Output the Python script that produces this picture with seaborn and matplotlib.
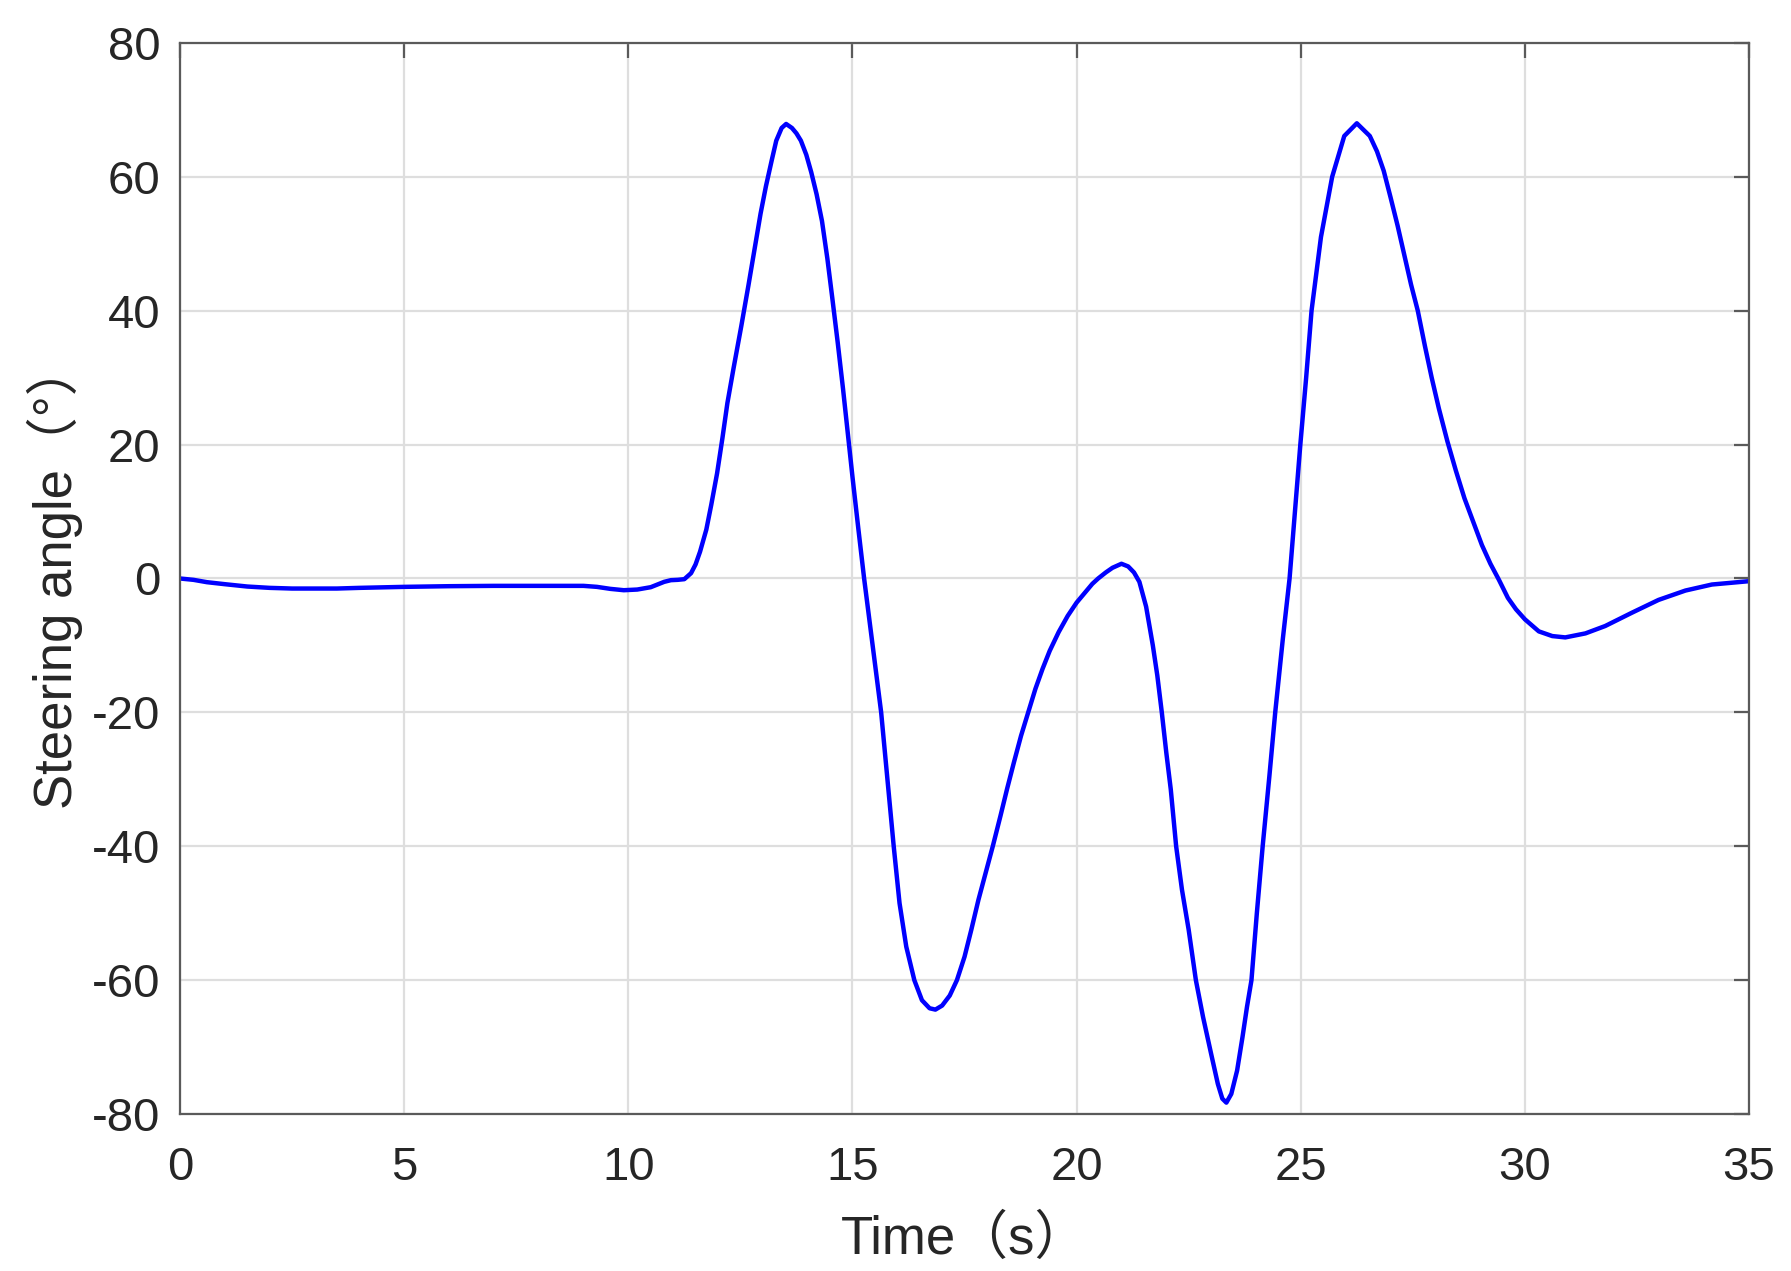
import numpy as np
import pandas as pd
import seaborn as sns
import matplotlib.pyplot as plt

# steering angle trace
time_s = [
    0.0, 0.3, 0.6, 1.0, 1.5, 2.0, 2.5, 3.0, 3.5, 4.0, 5.0, 6.0, 7.0, 8.0, 9.0,
    9.3, 9.6, 9.9, 10.2, 10.5, 10.8, 10.95, 11.1, 11.25, 11.4, 11.5, 11.6, 11.74,
    11.85, 11.98, 12.1, 12.21, 12.35, 12.52, 12.68, 12.83, 12.95, 13.07, 13.2,
    13.3, 13.42, 13.52, 13.65, 13.75, 13.85, 13.97, 14.08, 14.2, 14.32, 14.44,
    14.55, 14.67, 14.79, 14.9, 15.0, 15.13, 15.26, 15.45, 15.64, 15.78, 15.92,
    16.05, 16.2, 16.38, 16.55, 16.72, 16.85, 17.0, 17.17, 17.33, 17.5, 17.65,
    17.81, 17.97, 18.13, 18.3, 18.45, 18.6, 18.76, 18.92, 19.08, 19.24, 19.4,
    19.6, 19.8, 20.0, 20.2, 20.35, 20.48, 20.65, 20.8, 21.0, 21.15, 21.28, 21.4,
    21.55, 21.7, 21.8, 21.9, 22.0, 22.1, 22.22, 22.35, 22.5, 22.66, 22.82, 23.0,
    23.15, 23.25, 23.34, 23.45, 23.58, 23.7, 23.8, 23.9, 24.02, 24.15, 24.3,
    24.43, 24.6, 24.75, 24.87, 24.99, 25.12, 25.24, 25.45, 25.7, 25.97, 26.25,
    26.54, 26.7, 26.85, 27.0, 27.16, 27.31, 27.46, 27.61, 27.77, 27.92, 28.08,
    28.27, 28.46, 28.65, 28.85, 29.04, 29.23, 29.42, 29.62, 29.8, 30.0, 30.31,
    30.61, 30.9, 31.35, 31.79, 32.39, 32.98, 33.58, 34.17, 35.0,
]
steering_deg = [
    0.0, -0.2, -0.55, -0.85, -1.2, -1.4, -1.5, -1.5, -1.5, -1.4, -1.25, -1.15,
    -1.1, -1.1, -1.1, -1.25, -1.55, -1.75, -1.65, -1.3, -0.5, -0.25, -0.2, -0.1,
    0.8, 2.1, 4.0, 7.3, 11.0, 15.7, 21.0, 26.2, 31.5, 37.7, 43.8, 49.7, 54.5,
    58.6, 62.5, 65.4, 67.3, 67.9, 67.3, 66.5, 65.4, 63.3, 60.7, 57.4, 53.4, 47.8,
    41.9, 35.3, 28.3, 21.5, 15.2, 7.5, 0.0, -10.0, -20.0, -30.0, -40.0, -48.5,
    -55.0, -60.0, -63.0, -64.2, -64.4, -63.8, -62.3, -60.0, -56.5, -52.5, -48.0,
    -44.0, -40.0, -35.5, -31.4, -27.5, -23.5, -20.0, -16.5, -13.5, -10.8, -8.0,
    -5.6, -3.6, -2.0, -0.8, 0.0, 0.9, 1.6, 2.2, 1.8, 0.9, -0.5, -4.2, -10.0,
    -14.5, -20.0, -26.0, -31.5, -40.0, -46.5, -52.5, -60.0, -65.5, -71.0, -75.5,
    -77.7, -78.3, -77.0, -73.5, -68.5, -64.0, -60.0, -50.0, -40.0, -29.5, -20.0,
    -9.0, 0.0, 10.0, 20.0, 30.0, 40.0, 51.0, 60.0, 66.1, 68.0, 66.1, 63.8, 60.9,
    57.0, 52.7, 48.3, 43.9, 40.0, 34.7, 30.0, 25.4, 20.5, 16.1, 12.0, 8.4, 5.0,
    2.2, -0.2, -2.9, -4.6, -6.1, -7.9, -8.6, -8.8, -8.2, -7.1, -5.1, -3.2, -1.8,
    -0.9, -0.4,
]
x_ticks = [0, 5, 10, 15, 20, 25, 30, 35]
y_ticks = [-80, -60, -40, -20, 0, 20, 40, 60, 80]

df = pd.DataFrame({"Time": time_s, "Angle": steering_deg})

sns.set_style("white")
plt.rcParams['font.family'] = ['Liberation Sans', 'Noto Sans CJK SC']
plt.rcParams['axes.unicode_minus'] = False

fig, ax = plt.subplots(figsize=(17.91, 12.71), dpi=100)
fig.subplots_adjust(left=0.1005, right=0.9766, bottom=0.1235, top=0.9662)

sns.lineplot(data=df, x="Time", y="Angle", color="#0000ff", linewidth=3.2,
             estimator=None, sort=False, ax=ax,
             solid_joinstyle="round", solid_capstyle="round")

ax.set_xlim(0, 35)
ax.set_ylim(-80, 80)
ax.set_xticks(x_ticks)
ax.set_yticks(y_ticks)

# matlab-ish box with inward ticks and light grid
ax.grid(True, color="#dedede", linewidth=1.6)
ax.set_axisbelow(True)
for side in ax.spines.values():
    side.set_visible(True)
    side.set_color("#5a5a5a")
    side.set_linewidth(1.6)
ax.tick_params(direction="in", length=11, width=1.6, color="#5a5a5a",
               top=True, right=True, labelsize=34, labelcolor="#262626")
ax.tick_params(axis="x", pad=23)
ax.tick_params(axis="y", pad=14)

ax.set_xlabel("Time（s）", fontsize=38, color="#262626")
ax.set_ylabel("Steering angle（°）", fontsize=38, color="#262626")
ax.xaxis.set_label_coords(0.5, -0.094)
ax.yaxis.set_label_coords(-0.062, 0.503)

plt.savefig("out.png", dpi=100)
